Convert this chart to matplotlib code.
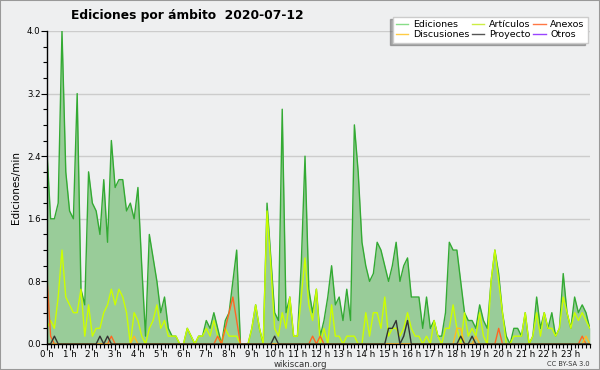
import numpy as np
import matplotlib
matplotlib.use("Agg")
from matplotlib import pyplot as plt
from matplotlib.patches import Rectangle
from matplotlib.lines import Line2D

# Values per 10-minute slot (edits/min)
ediciones = [2.5, 1.6, 1.6, 1.8, 4.0, 2.2, 1.7, 1.6, 3.2, 0.7, 0.5, 2.2,
             1.8, 1.7, 1.4, 2.1, 1.3, 2.6, 2.0, 2.1, 2.1, 1.7, 1.8, 1.6,
             2.0, 1.0, 0.1, 1.4, 1.1, 0.8, 0.4, 0.6, 0.2, 0.1, 0.1, 0.0,
             0.0, 0.2, 0.1, 0.0, 0.1, 0.1, 0.3, 0.2, 0.4, 0.2, 0.0, 0.3,
             0.4, 0.8, 1.2, 0.0, 0.0, 0.0, 0.2, 0.5, 0.2, 0.0, 1.8, 1.1,
             0.4, 0.3, 3.0, 0.4, 0.6, 0.1, 0.1, 1.0, 2.4, 0.7, 0.4, 0.7,
             0.1, 0.3, 0.6, 1.0, 0.5, 0.6, 0.3, 0.7, 0.3, 2.8, 2.2, 1.3,
             1.0, 0.8, 0.9, 1.3, 1.2, 1.0, 0.8, 1.0, 1.3, 0.8, 1.0, 1.1,
             0.6, 0.6, 0.6, 0.2, 0.6, 0.2, 0.3, 0.1, 0.1, 0.4, 1.3, 1.2,
             1.2, 0.8, 0.4, 0.3, 0.3, 0.2, 0.5, 0.3, 0.2, 0.8, 1.2, 0.9,
             0.4, 0.1, 0.0, 0.2, 0.2, 0.1, 0.4, 0.0, 0.1, 0.6, 0.2, 0.4,
             0.2, 0.4, 0.1, 0.2, 0.9, 0.4, 0.2, 0.6, 0.4, 0.5, 0.4, 0.2]

articulos = [0.2, 0.3, 0.2, 0.6, 1.2, 0.6, 0.5, 0.4, 0.4, 0.7, 0.1, 0.5,
             0.1, 0.2, 0.2, 0.4, 0.5, 0.7, 0.5, 0.7, 0.6, 0.4, 0.0, 0.4,
             0.3, 0.1, 0.0, 0.2, 0.3, 0.5, 0.2, 0.3, 0.1, 0.1, 0.1, 0.0,
             0.0, 0.2, 0.1, 0.0, 0.1, 0.1, 0.2, 0.1, 0.3, 0.1, 0.0, 0.2,
             0.1, 0.1, 0.1, 0.0, 0.0, 0.0, 0.2, 0.5, 0.2, 0.0, 1.7, 1.0,
             0.2, 0.1, 0.4, 0.2, 0.6, 0.1, 0.1, 0.6, 1.1, 0.5, 0.3, 0.7,
             0.0, 0.2, 0.0, 0.5, 0.1, 0.1, 0.0, 0.1, 0.1, 0.1, 0.0, 0.0,
             0.4, 0.1, 0.4, 0.4, 0.2, 0.6, 0.1, 0.2, 0.2, 0.1, 0.2, 0.4,
             0.2, 0.1, 0.1, 0.0, 0.1, 0.0, 0.3, 0.1, 0.0, 0.2, 0.2, 0.5,
             0.2, 0.0, 0.4, 0.1, 0.2, 0.1, 0.4, 0.1, 0.0, 0.8, 1.2, 0.8,
             0.4, 0.0, 0.0, 0.1, 0.1, 0.1, 0.4, 0.0, 0.1, 0.4, 0.1, 0.4,
             0.2, 0.2, 0.1, 0.2, 0.6, 0.4, 0.2, 0.4, 0.3, 0.4, 0.3, 0.2]

# sparse series: slot index -> value
anexos_pts = {0: 0.9, 1: 0.1, 17: 0.1, 45: 0.1, 47: 0.2, 48: 0.4, 49: 0.6,
              50: 0.3, 70: 0.1, 72: 0.1, 119: 0.2, 141: 0.1}
discusiones_pts = {23: 0.1, 108: 0.2, 109: 0.2, 113: 0.1, 142: 0.1}
proyecto_pts = {2: 0.1, 14: 0.1, 16: 0.1, 60: 0.1, 90: 0.2, 91: 0.2,
                92: 0.3, 94: 0.1, 95: 0.3, 109: 0.1, 112: 0.1}

hour_labels = ["%d h" % h for h in range(24)]

n = len(ediciones)
hours = np.arange(n) / 6.0


def expand(pts):
    arr = np.zeros(n)
    for k, v in pts.items():
        arr[k] = v
    return arr


anexos = expand(anexos_pts)
discusiones = expand(discusiones_pts)
proyecto = expand(proyecto_pts)
otros = np.zeros(n)

bg = "#eeeff0"
fig = plt.figure(figsize=(6, 3.7), dpi=100, facecolor=bg)
ax = fig.add_axes([0.078, 0.0703, 0.905, 0.846], facecolor=bg)

ax.fill_between(hours, ediciones, color="#99cc99", lw=0)
ax.plot(hours, ediciones, color="#33aa33", lw=1.0)
ax.plot(hours, articulos, color="#ccff00", lw=1.0)
ax.plot(hours, anexos, color="#ff6622", lw=1.0)
ax.plot(hours, discusiones, color="#ffbb22", lw=1.0)
ax.plot(hours, proyecto, color="#333333", lw=1.0)
ax.plot(hours, otros, color="#9944ee", lw=1.0, alpha=0)

ax.set_xlim(0, hours[-1])
ax.set_ylim(0, 4.0)
ax.set_xticks(range(24))
ax.set_xticklabels(hour_labels)
ax.set_xticks(np.arange(0, hours[-1] + 0.01, 1 / 6.0), minor=True)
ax.set_yticks(np.arange(0, 4.01, 0.8))
ax.set_yticklabels(["%.1f" % v for v in np.arange(0, 4.01, 0.8)])
ax.set_yticks(np.arange(0, 4.01, 0.2), minor=True)
ax.tick_params(axis="both", which="major", labelsize=6.2, length=4,
               width=0.8, pad=0.5)
ax.tick_params(axis="both", which="minor", length=3, width=0.8)
ax.grid(axis="y", color="#cccccc", lw=1.0)
ax.set_axisbelow(True)
for s in ["top", "right"]:
    ax.spines[s].set_visible(False)
ax.spines["left"].set_linewidth(1.0)
ax.spines["bottom"].set_linewidth(1.0)

ax.set_ylabel("Ediciones/min", fontsize=7.5, labelpad=4)
fig.text(0.313, 0.958, "Ediciones por ámbito  2020-07-12", fontsize=8.8,
         fontweight="bold", ha="center", va="center")
fig.text(0.5, 0.016, "wikiscan.org", fontsize=6.2, ha="center",
         va="center", color="#333333")
fig.text(0.983, 0.016, "CC BY-SA 3.0", fontsize=4.8, ha="right",
         va="center", color="#333333")

# legend
handles = [Line2D([], [], color="#88dd88", lw=1),
           Line2D([], [], color="#ffcc44", lw=1),
           Line2D([], [], color="#ccee44", lw=1),
           Line2D([], [], color="#555555", lw=1),
           Line2D([], [], color="#ff7744", lw=1),
           Line2D([], [], color="#9944ff", lw=1)]
names = ["Ediciones", "Discusiones", "Artículos", "Proyecto", "Anexos", "Otros"]
leg = fig.legend(handles, names, ncol=3, loc="upper right",
                 bbox_to_anchor=(0.988, 0.968), fontsize=6.8, frameon=True,
                 fancybox=False,
                 shadow={"ox": -2, "oy": -2, "color": "#666666", "shade": 0},
                 handlelength=1.3, handletextpad=0.5, columnspacing=0.3,
                 labelspacing=0.15, borderpad=0.35)
leg.get_frame().set_facecolor("white")
leg.get_frame().set_edgecolor("#cccccc")
leg.get_frame().set_alpha(1)

fig.patches.append(Rectangle((0, 0), 1, 1, transform=fig.transFigure,
                             fill=False, edgecolor="#999999", lw=1.5))

fig.savefig("out.png", dpi=100, facecolor=bg)
